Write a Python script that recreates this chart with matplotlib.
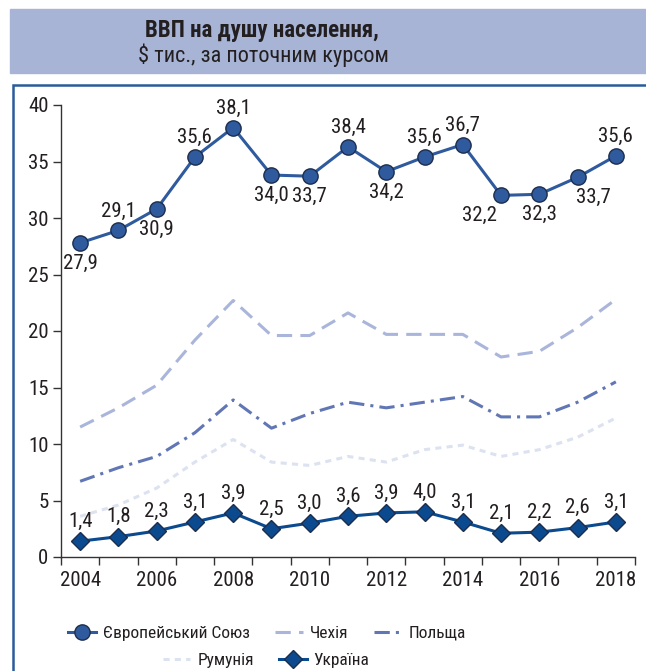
import matplotlib
matplotlib.use("Agg")
import matplotlib.pyplot as plt
from matplotlib.patches import Rectangle

plt.rcParams['font.family'] = ['Roboto Condensed', 'Liberation Sans', 'DejaVu Sans']

years = list(range(2004, 2019))
year_labels = ['2004', '2006', '2008', '2010', '2012', '2014', '2016', '2018']

eu = [27.8, 28.9, 30.8, 35.4, 38.0, 33.8, 33.7, 36.3, 34.1, 35.4, 36.5, 32.0, 32.1, 33.6, 35.5]
eu_labels = ['27,9', '29,1', '30,9', '35,6', '38,1', '34,0', '33,7', '38,4',
             '34,2', '35,6', '36,7', '32,2', '32,3', '33,7', '35,6']
czech = [11.5, 13.2, 15.2, 19.2, 22.7, 19.6, 19.6, 21.6, 19.7, 19.7, 19.7, 17.7, 18.2, 20.3, 22.8]
poland = [6.7, 7.9, 8.9, 11.0, 13.9, 11.4, 12.7, 13.7, 13.2, 13.7, 14.2, 12.4, 12.4, 13.7, 15.5]
romania = [3.6, 4.6, 6.1, 8.4, 10.4, 8.4, 8.1, 8.9, 8.4, 9.5, 9.9, 8.9, 9.5, 10.6, 12.3]
ukraine = [1.4, 1.8, 2.3, 3.1, 3.9, 2.5, 3.0, 3.6, 3.9, 4.0, 3.1, 2.1, 2.2, 2.6, 3.1]

# where the EU value labels sit: 'a' above, 'b' below
eu_side = ['b', 'a', 'b', 'a', 'a', 'b', 'b', 'a', 'b', 'a', 'a', 'b', 'b', 'b', 'a']
eu_dx = [0, 0, 0, 0, 0, 0, 0, 0, 0, 0, 0, -0.57, 0, 0.42, 0]

c_eu = '#2f5b9e'
c_ua = '#0b4a8e'
c_cz = '#a9b5da'
c_pl = '#6176b4'
c_ro = '#dde2f1'
c_text = '#231f20'
fs = 15

fig = plt.figure(figsize=(6.46, 6.71), dpi=100)

# title box and frame
fig.patches.append(Rectangle((10 / 646, 1 - 73 / 671), 640 / 646, 64 / 671,
                             transform=fig.transFigure, color='#a7b4d6', zorder=0))
fig.patches.append(Rectangle((13 / 646, -0.05), 640 / 646, 1.05 - 85 / 671,
                             transform=fig.transFigure, fill=False,
                             edgecolor='#2a5c9a', linewidth=1.8, zorder=0))
fig.text(262 / 646, 1 - 31 / 671, 'ВВП на душу населення,', ha='center', va='center',
         fontsize=16.5, fontweight='bold', color=c_text)
fig.text(263 / 646, 1 - 55 / 671, '$ тис., за поточним курсом', ha='center', va='center',
         fontsize=16, color=c_text)

ax = fig.add_axes([61 / 646, 1 - 557 / 671, 574 / 646, 452 / 671])
x = list(range(len(years)))

ax.plot(x, romania, color=c_ro, lw=2.2, ls=(0, (2, 1.7)), label='Румунія')
ax.plot(x, poland, color=c_pl, lw=2.2, ls=(0, (5, 2, 1, 2)), label='Польща')
ax.plot(x, czech, color=c_cz, lw=2.2, ls=(0, (5, 2.7)), label='Чехія')
ax.plot(x, eu, color=c_eu, lw=2.2, marker='o', ms=11, mfc=c_eu, mec='#1c2d4d',
        mew=1, label='Європейський Союз', zorder=4)
ax.plot(x, ukraine, color=c_ua, lw=2.2, marker='D', ms=9, mfc=c_ua, mec='#1c2d4d',
        mew=1, label='Україна', zorder=4)

for i, (v, t, s) in enumerate(zip(eu, eu_labels, eu_side)):
    off = 1.7 if s == 'a' else -1.8
    ax.text(i + eu_dx[i], v + off, t, ha='center', va='center', fontsize=fs, color=c_text)
for i, v in enumerate(ukraine):
    t = f'{v:.1f}'.replace('.', ',')
    ax.text(i, v + 1.75, t, ha='center', va='center', fontsize=fs, color=c_text)

ax.set_xlim(-0.5, 14.5)
ax.set_ylim(0, 40)
ax.set_yticks(range(0, 41, 5))
ax.set_xticks([i - 0.5 for i in range(16)])
ax.set_xticklabels([])
ax.set_xticks(range(0, 15, 2), minor=True)
ax.set_xticklabels(year_labels, minor=True)
ax.tick_params(axis='x', which='minor', length=0, pad=10, labelsize=fs, colors=c_text)
ax.tick_params(axis='x', which='major', length=6, width=1, color='#333333')
ax.tick_params(axis='y', length=6, width=1, color='#333333', labelsize=fs,
               labelcolor=c_text, pad=3)
for side in ['top', 'right']:
    ax.spines[side].set_visible(False)
for side in ['left', 'bottom']:
    ax.spines[side].set_color('#333333')
    ax.spines[side].set_linewidth(1)

h, l = ax.get_legend_handles_labels()
hd = dict(zip(l, h))
row1 = ['Європейський Союз', 'Чехія', 'Польща']
row2 = ['Румунія', 'Україна']
leg_kw = dict(loc='center', frameon=False, fontsize=12.5, handlelength=1.6,
              handletextpad=0.4, columnspacing=1.45, borderaxespad=0,
              borderpad=0, labelcolor=c_text)
leg1 = fig.legend([hd[k] for k in row1], row1, ncol=3,
                  bbox_to_anchor=(267 / 646, 1 - 633 / 671), **leg_kw)
leg2 = fig.legend([hd[k] for k in row2], row2, ncol=2,
                  bbox_to_anchor=(266 / 646, 1 - 660 / 671), **leg_kw)

fig.savefig('out.png', dpi=100)
